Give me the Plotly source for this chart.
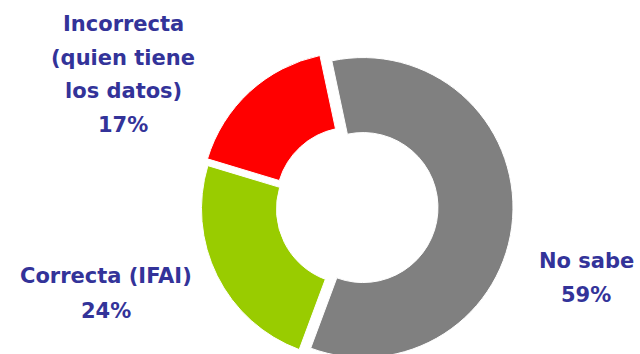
import plotly.graph_objects as go

# Survey answers and their shares (%)
categories = ["No sabe", "Correcta (IFAI)", "Incorrecta (quien tiene los datos)"]
values = [59, 24, 17]
colors = ["#808080", "#99CC00", "#FF0000"]

# How each category name is broken over lines in its label
label_lines = [
    ["No sabe"],
    ["Correcta (IFAI)"],
    ["Incorrecta", "(quien tiene", "los datos)"],
]

# The figure is a little taller than the window so the exploded ring can
# run off the bottom edge; page overflow is hidden below.
W, H = 640, 366
TEXT_COLOR = "#333399"
FONT = dict(family="DejaVu Sans", size=21, color=TEXT_COLOR, weight="bold")

# Ring geometry in pixels: centre, outer radius, per-slice explode distance
CX, CY, R = 355.5, 207, 150
explode_px = [7.5, 4.5, 6.5]
pulls = [p / R for p in explode_px]
HALF = R * (1 + max(pulls))

fig = go.Figure(
    go.Pie(
        labels=categories,
        values=values,
        marker=dict(colors=colors, line=dict(color="white", width=1)),
        hole=0.5,
        pull=pulls,
        sort=False,
        direction="clockwise",
        rotation=-12,
        textinfo="none",
        hoverinfo="label+percent",
        showlegend=False,
        domain=dict(
            x=[(CX - HALF - 5) / W, (CX + HALF + 5) / W],
            y=[1 - (CY + HALF) / H, 1 - (CY - HALF) / H],
        ),
    )
)

# Label blocks: centre x and vertical centre of first line (pixels), line step
label_pos = [
    (586, 261, 34),
    (106, 276, 35),
    (123, 24, 33.5),
]

annotations = []
for lines, val, (cx, cy, step) in zip(label_lines, values, label_pos):
    for i, line in enumerate(lines + [f"{val}%"]):
        annotations.append(
            dict(
                text=line,
                x=cx / W,
                y=1 - (cy + i * step) / H,
                xref="paper",
                yref="paper",
                xanchor="center",
                yanchor="middle",
                showarrow=False,
                font=FONT,
            )
        )

fig.update_layout(
    width=W,
    height=H,
    margin=dict(l=0, r=0, t=0, b=0),
    paper_bgcolor="white",
    plot_bgcolor="white",
    annotations=annotations,
)

fig.write_html(
    "out.html",
    post_script=(
        "document.documentElement.style.overflow='hidden';"
        "document.body.style.overflow='hidden';"
        "document.body.style.margin='0';"
    ),
)
